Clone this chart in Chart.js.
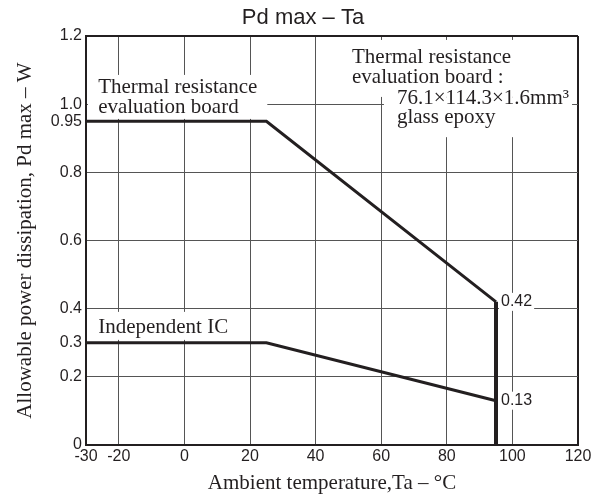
<!DOCTYPE html>
<html><head><meta charset="utf-8">
<script src="https://cdn.jsdelivr.net/npm/chart.js@4.4.1/dist/chart.umd.min.js"></script>
<style>html,body{margin:0;padding:0;background:#fff}#wrap{width:606px;height:500px}</style>
</head><body><div id="wrap"><canvas id="c" width="606" height="500"></canvas></div>
<script>
// ---- data ----
const temps = [-30, 25, 95, 95];
const boardPd = [0.95, 0.95, 0.42, 0];
const icPd = [0.3, 0.3, 0.13, 0];
const xTicks = [-30, -20, 0, 20, 40, 60, 80, 100, 120];
const yTicks = [0, 0.2, 0.3, 0.4, 0.6, 0.8, 0.95, 1.0, 1.2];
const yTickLabels = ['0', '0.2', '0.3', '0.4', '0.6', '0.8', '0.95', '1.0', '1.2'];
const yNoGrid = [0.3, 0.95];
const frameX = [-30, 120];
const frameY = [0, 1.2];

// ---- text notes (anchored in data units) ----
const SERIF = '"Liberation Serif", "Times New Roman", serif';
const SANS = '"Liberation Sans", Arial, sans-serif';
const INK = '#231f20';
const notes = [
  {lines: ['Thermal resistance', 'evaluation board'], x: -26.3, y: 1.033, lh: 20, pad: [18, 10, 6, 0], fromEdge: true},
  {lines: ['Thermal resistance', 'evaluation board :'], x: 51.1, y: 1.121, lh: 20, pad: [23, 6, 14, 6], fromEdge: false},
  {lines: ['76.1×114.3×1.6mm³', 'glass epoxy'], x: 64.8, y: 1.0, lh: 19, pad: [7, 3, 14, 13], fromEdge: false},
  {lines: ['Independent IC'], x: -26.3, y: 0.329, lh: 20, pad: [21, 10, 7, 0], fromEdge: true}
];
const valueLabels = [
  {x: temps[2], y: boardPd[2]},
  {x: temps[2], y: icPd[2]}
];

const notePlugin = {
  id: 'notes',
  beforeDatasetsDraw(chart) {
    const {ctx, chartArea: a, scales: {x, y}} = chart;
    ctx.save();
    ctx.beginPath();
    ctx.rect(a.left + 2, a.top + 2, a.right - a.left - 4, a.bottom - a.top - 4);
    ctx.clip();
    ctx.textBaseline = 'alphabetic';
    ctx.textAlign = 'left';
    for (const n of notes) {
      ctx.font = '21px ' + SERIF;
      const px = x.getPixelForValue(n.x), py = y.getPixelForValue(n.y);
      const w = Math.max(...n.lines.map(l => ctx.measureText(l).width));
      const last = py + n.lh * (n.lines.length - 1);
      const left = n.fromEdge ? a.left : px - n.pad[3];
      const top = py - n.pad[0];
      ctx.fillStyle = '#fff';
      ctx.fillRect(left, top, px + w + n.pad[1] - left, last + n.pad[2] - top);
      ctx.fillStyle = INK;
      n.lines.forEach((l, i) => ctx.fillText(l, px, py + i * n.lh));
    }
    ctx.font = '16px ' + SANS;
    ctx.textBaseline = 'middle';
    for (const v of valueLabels) {
      const px = x.getPixelForValue(v.x) + 5, py = y.getPixelForValue(v.y);
      const t = v.y.toFixed(2);
      const w = ctx.measureText(t).width;
      ctx.fillStyle = '#fff';
      ctx.fillRect(px - 2, py - 9, w + 4, 18);
      ctx.fillStyle = INK;
      ctx.fillText(t, px, py);
    }
    ctx.restore();
  }
};

const mk = arr => temps.map((t, i) => ({x: t, y: arr[i]}));
const lineStyle = {borderColor: INK, borderWidth: 3, pointRadius: 0, tension: 0, fill: false, borderJoinStyle: 'miter',
  segment: {borderWidth: c => c.p0.parsed.x === c.p1.parsed.x ? 4 : 3}};

new Chart(document.getElementById('c'), {
  type: 'line',
  data: {
    datasets: [
      Object.assign({label: 'Thermal resistance evaluation board', data: mk(boardPd)}, lineStyle),
      Object.assign({label: 'Independent IC', data: mk(icPd)}, lineStyle)
    ]
  },
  options: {
    responsive: false, animation: false, devicePixelRatio: 1,
    layout: {padding: 0},
    plugins: {
      legend: {display: false}, tooltip: {enabled: false},
      title: {display: true, text: 'Pd max – Ta', color: INK,
        font: {family: SANS, size: 22, weight: 'normal', lineHeight: 1.2}, padding: {top: 5, bottom: 4.6}}
    },
    scales: {
      x: {
        type: 'linear', min: -30, max: 120,
        afterBuildTicks: s => { s.ticks = xTicks.map(v => ({value: v})); },
        afterFit: s => { s.height = 55; s.paddingRight = 28; },
        ticks: {autoSkip: false, maxRotation: 0, padding: 2, color: INK,
          font: {family: SANS, size: 16}, callback: v => String(v)},
        grid: {drawTicks: false,
          color: c => frameX.includes(c.tick && c.tick.value) ? INK : '#555',
          lineWidth: c => frameX.includes(c.tick && c.tick.value) ? 2 : 1},
        border: {color: INK, width: 2},
        title: {display: true, text: 'Ambient temperature,Ta – °C', color: INK,
          font: {family: SERIF, size: 21, lineHeight: 1.2}, padding: {top: 0, bottom: 4}}
      },
      y: {
        type: 'linear', min: 0, max: 1.2,
        afterBuildTicks: s => { s.ticks = yTicks.map(v => ({value: v})); },
        afterFit: s => { s.width = 86; },
        ticks: {autoSkip: false, padding: 4, color: INK,
          font: {family: SANS, size: 16},
          callback: v => { const i = yTicks.indexOf(v); return i >= 0 ? yTickLabels[i] : ''; }},
        grid: {drawTicks: false,
          color: c => { const v = c.tick && c.tick.value; return yNoGrid.includes(v) ? 'rgba(0,0,0,0)' : (frameY.includes(v) ? INK : '#555'); },
          lineWidth: c => frameY.includes(c.tick && c.tick.value) ? 2 : 1},
        border: {color: INK, width: 2},
        title: {display: true, text: 'Allowable power dissipation, Pd max – W', color: INK,
          font: {family: SERIF, size: 21, lineHeight: 1.2}, padding: {top: 13, bottom: 0}}
      }
    }
  },
  plugins: [notePlugin]
});
</script>
</body></html>
